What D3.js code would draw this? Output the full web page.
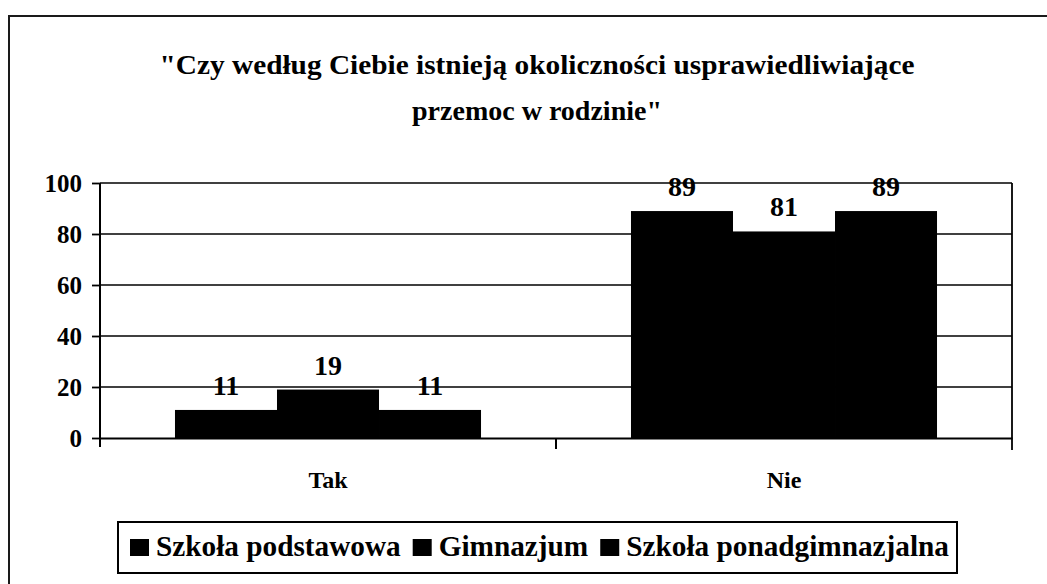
<!DOCTYPE html>
<html>
<head>
<meta charset="utf-8">
<script src="https://cdn.jsdelivr.net/npm/d3@7/dist/d3.min.js"></script>
<style>
  html, body { margin: 0; padding: 0; background: #fff; }
  svg { display: block; }
  svg text { font-family: "Liberation Serif", "Tinos", "DejaVu Serif", serif !important; font-weight: bold; fill: #000; }
</style>
</head>
<body>
<svg id="chart" width="1047" height="584"></svg>
<script>
// Survey answers by school level (percent)
const categories = ["Tak", "Nie"];
const seriesNames = ["Szkoła podstawowa", "Gimnazjum", "Szkoła ponadgimnazjalna"];
const podstawowa = [11, 89];
const gimnazjum = [19, 81];
const ponadgimnazjalna = [11, 89];
const yTicks = [0, 20, 40, 60, 80, 100];
const titleLines = ["\"Czy według Ciebie istnieją okoliczności usprawiedliwiające", "przemoc w rodzinie\""];

const seriesValues = [podstawowa, gimnazjum, ponadgimnazjalna];

const svg = d3.select("#chart");

// outer frame
svg.append("rect")
  .attr("x", 9).attr("y", 16)
  .attr("width", 1060).attr("height", 600)
  .attr("fill", "none").attr("stroke", "#1a1a1a").attr("stroke-width", 2);

// title
const titleX = 537;
svg.append("text").attr("x", titleX).attr("y", 74)
  .attr("text-anchor", "middle").attr("font-size", 28)
  .attr("textLength", 755).attr("lengthAdjust", "spacingAndGlyphs")
  .text(titleLines[0]);
svg.append("text").attr("x", titleX).attr("y", 120)
  .attr("text-anchor", "middle").attr("font-size", 28)
  .attr("textLength", 250).attr("lengthAdjust", "spacingAndGlyphs")
  .text(titleLines[1]);

// scales
const plot = { left: 100, right: 1012, top: 183, bottom: 438 };
const y = d3.scaleLinear().domain([0, 100]).range([plot.bottom, plot.top]);
const x0 = d3.scaleBand().domain(categories).range([plot.left, plot.right]).padding(0);
const x1 = d3.scaleBand().domain(seriesNames).range([0, x0.bandwidth()])
  .paddingInner(0).paddingOuter(0.735);

// gridlines
svg.append("g").selectAll("line")
  .data(yTicks.filter(d => d > 0))
  .join("line")
  .attr("x1", plot.left).attr("x2", plot.right)
  .attr("y1", d => y(d)).attr("y2", d => y(d))
  .attr("stroke", "#000").attr("stroke-width", 1.6);

// right frame of plot area
svg.append("line")
  .attr("x1", plot.right).attr("x2", plot.right)
  .attr("y1", plot.top).attr("y2", plot.bottom + 12)
  .attr("stroke", "#000").attr("stroke-width", 1.8);

// bars
const groups = svg.append("g").selectAll("g")
  .data(categories)
  .join("g")
  .attr("transform", d => `translate(${x0(d)},0)`);

groups.selectAll("rect")
  .data((c, i) => seriesNames.map((s, k) => ({ s, v: seriesValues[k][i] })))
  .join("rect")
  .attr("x", d => x1(d.s))
  .attr("width", x1.bandwidth())
  .attr("y", d => y(d.v))
  .attr("height", d => y(0) - y(d.v))
  .attr("fill", "#000");

// value labels
groups.selectAll("text")
  .data((c, i) => seriesNames.map((s, k) => ({ s, v: seriesValues[k][i] })))
  .join("text")
  .attr("x", d => x1(d.s) + x1.bandwidth() / 2)
  .attr("y", d => y(d.v) - 15)
  .attr("text-anchor", "middle")
  .attr("font-size", 28)
  .text(d => d.v);

// y axis
const yAxis = svg.append("g")
  .attr("transform", `translate(${plot.left},0)`)
  .call(d3.axisLeft(y).tickValues(yTicks).tickSize(8).tickPadding(10).tickFormat(d3.format("d")));
yAxis.attr("font-family", null);
yAxis.select(".domain").remove();
yAxis.selectAll(".tick line").attr("stroke", "#000").attr("stroke-width", 1.8);
yAxis.selectAll(".tick text").attr("font-size", 25);
svg.append("line")
  .attr("x1", plot.left).attr("x2", plot.left)
  .attr("y1", plot.top).attr("y2", plot.bottom + 9)
  .attr("stroke", "#000").attr("stroke-width", 2);

// category axis
const xAxis = svg.append("g")
  .attr("transform", `translate(0,${plot.bottom})`)
  .call(d3.axisBottom(x0).tickSize(0).tickPadding(33));
xAxis.attr("font-family", null);
xAxis.select(".domain").attr("stroke", "#000").attr("stroke-width", 2);
xAxis.selectAll(".tick text").attr("font-size", 24);
svg.append("g").selectAll("line")
  .data(categories.slice(1))
  .join("line")
  .attr("x1", d => x0(d)).attr("x2", d => x0(d))
  .attr("y1", plot.bottom).attr("y2", plot.bottom + 11)
  .attr("stroke", "#000").attr("stroke-width", 2);

// legend
const legend = { x: 118, y: 522, w: 839, h: 51 };
svg.append("rect")
  .attr("x", legend.x).attr("y", legend.y)
  .attr("width", legend.w).attr("height", legend.h)
  .attr("fill", "#fff").attr("stroke", "#000").attr("stroke-width", 2);

const lg = svg.append("g");
const items = lg.selectAll("g").data(seriesNames).join("g");
items.append("rect").attr("width", 19).attr("height", 17).attr("y", -17).attr("fill", "#000");
items.append("text").attr("x", 26).attr("y", 0).attr("font-size", 30).text(d => d);

// fit the legend entries into the box with a condensed face
const widths = [];
items.select("text").each(function () { widths.push(this.getComputedTextLength()); });
const startX = 130, endX = 949, sq = 26, gapAfter = 12;
const natural = d3.sum(widths);
const avail = (endX - startX) - seriesNames.length * sq - (seriesNames.length - 1) * gapAfter;
const k = avail / natural;
let cx = startX;
items.each(function (d, i) {
  const g = d3.select(this);
  g.attr("transform", `translate(${cx},556)`);
  g.select("text").attr("textLength", widths[i] * k).attr("lengthAdjust", "spacingAndGlyphs");
  cx += sq + widths[i] * k + gapAfter;
});
</script>
</body>
</html>
